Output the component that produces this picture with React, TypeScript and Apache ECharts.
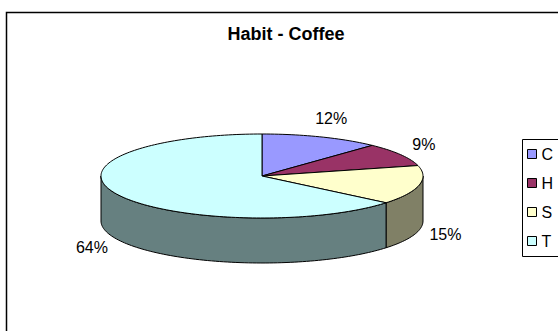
import React, { useEffect, useRef } from "react";
import * as echarts from "echarts";

const chartTitle = "Habit - Coffee";
const categories = ["C", "H", "S", "T"];
const values = [12, 9, 15, 64];
const topColors = ["#9999FF", "#993366", "#FFFFCC", "#CCFFFF"];
const sideColors = ["#4D4D80", "#4D1A33", "#808066", "#668080"];

const CX = 262;
const CY = 176;
const RX = 161;
const RY = 42;
const DEPTH = 45;
const LABEL_RX = 188;
const LABEL_RY = 62;

function pt(theta: number, dy = 0): number[] {
  const r = (theta * Math.PI) / 180;
  return [CX + RX * Math.sin(r), CY - RY * Math.cos(r) + dy];
}

function arc(a0: number, a1: number, dy = 0): number[][] {
  const pts: number[][] = [];
  const n = Math.max(2, Math.ceil((a1 - a0) / 1.5));
  for (let k = 0; k <= n; k++) pts.push(pt(a0 + ((a1 - a0) * k) / n, dy));
  return pts;
}

export default function App() {
  const ref = useRef<HTMLDivElement>(null);
  useEffect(() => {
    if (!ref.current) return;
    const chart = echarts.init(ref.current, null, { renderer: "svg" });
    const total = values.reduce((a, b) => a + b, 0);

    const series = categories.map((name, i) => ({
      type: "custom",
      name,
      coordinateSystem: "none",
      itemStyle: { color: topColors[i], borderColor: "#000", borderWidth: 1 },
      data: [[values[i]]],
      renderItem: (_params: any, api: any) => {
        const v = api.value(0);
        let before = 0;
        for (let k = 0; k < i; k++) before += values[k];
        const a0 = (before / total) * 360;
        const a1 = ((before + v) / total) * 360;
        const children: any[] = [];
        const s0 = Math.max(a0, 90);
        const s1 = Math.min(a1, 270);
        if (s0 < s1) {
          const topArc = arc(s0, s1);
          const botArc = arc(s0, s1, DEPTH).reverse();
          children.push({
            type: "polygon",
            shape: { points: topArc.concat(botArc) },
            style: { fill: sideColors[i], stroke: "#000", lineWidth: 1 },
          });
        }
        children.push({
          type: "polygon",
          shape: { points: [[CX, CY]].concat(arc(a0, a1)) },
          style: { fill: topColors[i], stroke: "#000", lineWidth: 1 },
        });
        const mid = ((a0 + a1) / 2) * Math.PI / 180;
        const front = Math.cos(mid) < 0;
        const lx = CX + LABEL_RX * Math.sin(mid);
        const ly = CY - LABEL_RY * Math.cos(mid) + (front ? DEPTH : 0);
        children.push({
          type: "text",
          style: {
            x: lx,
            y: ly,
            text: Math.round((v / total) * 100) + "%",
            fill: "#000",
            font: "16px 'Liberation Sans', Arial, sans-serif",
            align: "center",
            verticalAlign: "middle",
            textAlign: "center",
            textVerticalAlign: "middle",
          },
        });
        return { type: "group", children };
      },
    }));

    chart.setOption({
      animation: false,
      backgroundColor: "#fff",
      graphic: [
        {
          type: "polyline",
          shape: { points: [[6.5, 340], [6.5, 12.5], [570, 12.5]] },
          style: { fill: "none", stroke: "#000", lineWidth: 1.5 },
          z: 0,
        },
        {
          type: "polyline",
          shape: { points: [[570, 139.5], [522.5, 139.5], [522.5, 256.5], [570, 256.5]] },
          style: { fill: "none", stroke: "#000", lineWidth: 1 },
          z: 0,
        },
        {
          type: "text",
          style: {
            x: 286,
            y: 34,
            text: chartTitle,
            fill: "#000",
            font: "bold 18px 'Liberation Sans', Arial, sans-serif",
            align: "center",
            verticalAlign: "middle",
            textAlign: "center",
            textVerticalAlign: "middle",
          },
        },
      ],
      legend: {
        orient: "vertical",
        left: 523,
        top: 140,
        data: categories,
        icon: "rect",
        itemWidth: 9,
        itemHeight: 9,
        itemGap: 13,
        padding: [6, 4, 6, 4],
        borderWidth: 0,
        backgroundColor: "transparent",
        itemStyle: { borderColor: "#000", borderWidth: 1 },
        textStyle: {
          fontSize: 16,
          lineHeight: 16,
          color: "#000",
          fontFamily: "'Liberation Sans', Arial, sans-serif",
        },
        selectedMode: false,
      },
      series,
    });
    return () => chart.dispose();
  }, []);
  return (
    <div
      ref={ref}
      style={{ position: "absolute", left: 0, top: 0, width: 558, height: 331 }}
    />
  );
}
